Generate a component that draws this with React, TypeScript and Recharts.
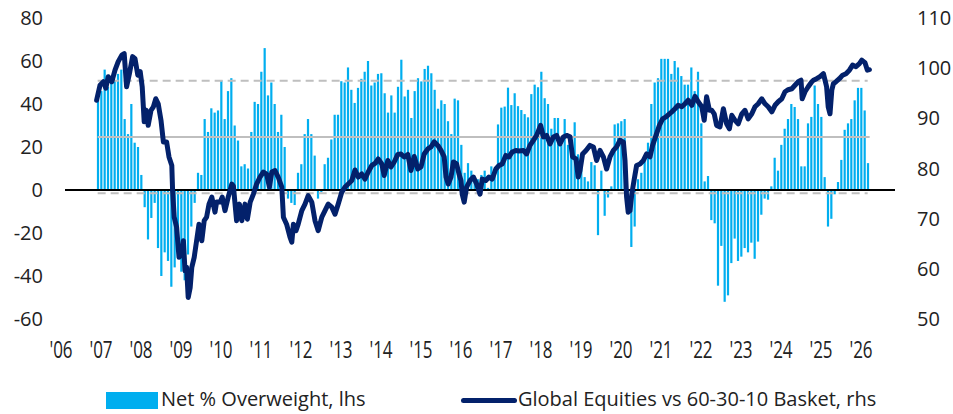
import React from 'react';
import { ComposedChart, Bar, Line, XAxis, YAxis, ReferenceLine, Legend } from 'recharts';

// Net % overweight equities (monthly, first value = Dec 2006)
const firstBarYear = 2006;
const firstBarMonth = 12;
const netOverweight = [
  42, 46, 56, 48, 53, 51, 54, 56, 33, 26, 40, 22,
  20, 7, -8, -23, -13, -6, -27, -40, -29, -33, -45, -36,
  -28, -38, -42, -30, -17, -6, 8, 7, 33, 27, 38, 36,
  37, 51, 33, 46, 52, 30, 23, 11, 12, 10, 27, 41,
  40, 55, 66, 44, 50, 40, 27, 35, 20, -4, -6, -7,
  8, 12, 26, 33, 26, 16, -4, -1, 12, 15, 23.5, 35,
  35, 50.6, 50, 57, 46.6, 40.5, 47.5, 51.7, 55, 60, 48.6, 50,
  54, 54.3, 45, 36, 44, 36, 48, 60.6, 43.5, 46.6, 33.5, 46,
  52, 50.5, 56.3, 57.8, 54.3, 46.6, 37.8, 41.7, 40, 32, 26, 42.5,
  41.7, 21, 8, 12.5, 9, 6, 5, 7, 9, 1, 11, 8,
  30.5, 38.3, 38.8, 47.6, 39.5, 45, 39, 37.2, 35.3, 33.8, 44.6, 49,
  47.8, 55, 42.7, 40, 28.5, 33.5, 33.5, 21, 33, 21, 21, 31.5,
  16.6, 11, 6, 4, 13, 11.5, -21, 9, -12, -3.5, 1.7, 30.5,
  31, 32, 33, -1, -26.5, -17, 5, 8, 14, 22, 40, 50,
  52, 61, 61, 61, 54, 60, 57, 53, 49, 49, 57, 46,
  55, 31, 4, 6.5, -14, -15.5, -44.5, -26, -52, -49, -34, -22.6,
  -33, -31, -27, -29, -24.5, -32, -24, -11.5, -4, -4.5, 1.7, 15,
  9, 21, 28.5, 33, 40, 38.6, 33, 11, 11, 31, 34, 48.6,
  40, 34, 6, -17, -13.4, -2, 3.7, 14, 28, 31, 33, 41.7,
  47.5, 47.5, 37, 12.5,
];

// Global Equities vs 60-30-10 Basket (dates as decimal years)
const lineDates = [
  2006.89, 2006.975, 2007.06, 2007.12, 2007.18, 2007.27, 2007.35, 2007.43, 2007.52, 2007.58,
  2007.64, 2007.71, 2007.79, 2007.85, 2007.92, 2007.98, 2008.03, 2008.08, 2008.13, 2008.18,
  2008.25, 2008.31, 2008.37, 2008.43, 2008.5, 2008.56, 2008.64, 2008.7, 2008.77, 2008.79,
  2008.83, 2008.89, 2008.95, 2009.02, 2009.06, 2009.1, 2009.14, 2009.18, 2009.23, 2009.27,
  2009.33, 2009.39, 2009.45, 2009.52, 2009.58, 2009.64, 2009.7, 2009.77, 2009.85, 2009.89,
  2009.98, 2010.03, 2010.1, 2010.18, 2010.27, 2010.31, 2010.39, 2010.46, 2010.52, 2010.6,
  2010.66, 2010.73, 2010.81, 2010.89, 2010.975, 2011.06, 2011.14, 2011.21, 2011.27, 2011.35,
  2011.43, 2011.52, 2011.56, 2011.64, 2011.725, 2011.77, 2011.81, 2011.875, 2011.93, 2012.02,
  2012.1, 2012.18, 2012.27, 2012.35, 2012.43, 2012.52, 2012.6, 2012.68, 2012.77, 2012.85,
  2012.93, 2013.02, 2013.1, 2013.18, 2013.27, 2013.35, 2013.43, 2013.52, 2013.6, 2013.68,
  2013.77, 2013.85, 2013.93, 2014.02, 2014.08, 2014.17, 2014.25, 2014.33, 2014.42, 2014.5,
  2014.58, 2014.67, 2014.75, 2014.83, 2014.92, 2015.0, 2015.08, 2015.17, 2015.25, 2015.33,
  2015.42, 2015.5, 2015.58, 2015.625, 2015.68, 2015.75, 2015.81, 2015.89, 2015.95, 2016.0,
  2016.03, 2016.08, 2016.14, 2016.225, 2016.31, 2016.39, 2016.475, 2016.53, 2016.62, 2016.7,
  2016.78, 2016.87, 2016.95, 2017.03, 2017.12, 2017.2, 2017.28, 2017.37, 2017.45, 2017.56,
  2017.64, 2017.725, 2017.81, 2017.89, 2017.99, 2018.06, 2018.14, 2018.225, 2018.31, 2018.39,
  2018.475, 2018.56, 2018.64, 2018.725, 2018.79, 2018.875, 2018.93, 2018.975, 2019.04, 2019.125,
  2019.225, 2019.31, 2019.39, 2019.475, 2019.56, 2019.64, 2019.725, 2019.81, 2019.89, 2019.975,
  2020.06, 2020.1, 2020.14, 2020.18, 2020.225, 2020.27, 2020.325, 2020.39, 2020.475, 2020.56,
  2020.64, 2020.725, 2020.79, 2020.875, 2020.96, 2021.04, 2021.125, 2021.21, 2021.27, 2021.35,
  2021.43, 2021.52, 2021.6, 2021.68, 2021.77, 2021.85, 2021.93, 2022.02, 2022.08, 2022.14,
  2022.21, 2022.27, 2022.33, 2022.39, 2022.475, 2022.56, 2022.64, 2022.71, 2022.77, 2022.85,
  2022.93, 2023.02, 2023.1, 2023.18, 2023.27, 2023.35, 2023.43, 2023.52, 2023.6, 2023.68,
  2023.77, 2023.85, 2023.93, 2024.02, 2024.1, 2024.18, 2024.27, 2024.35, 2024.43, 2024.5,
  2024.53, 2024.6, 2024.68, 2024.77, 2024.81, 2024.89, 2024.975, 2025.06, 2025.1, 2025.14,
  2025.18, 2025.225, 2025.27, 2025.31, 2025.375, 2025.46, 2025.54, 2025.625, 2025.71, 2025.79,
  2025.875, 2025.96, 2026.02, 2026.1, 2026.16, 2026.21,
];
const lineValues = [
  93.6, 96.6, 97.3, 96.0, 98.3, 97.3, 99.6, 101.3, 102.6, 102.9,
  96.3, 98.9, 102.3, 101.9, 98.6, 99.3, 96.3, 89.3, 91.6, 88.6,
  91.6, 92.3, 93.9, 92.9, 89.6, 85.3, 85.3, 82.3, 80.6, 75.6,
  70.3, 68.3, 62.3, 62.9, 65.6, 59.6, 60.3, 54.3, 56.3, 60.3,
  62.3, 65.6, 68.9, 65.6, 69.6, 70.3, 72.9, 74.3, 71.3, 73.3,
  73.3, 74.3, 71.6, 74.3, 76.9, 76.5, 69.6, 72.9, 69.6, 72.9,
  69.9, 73.3, 74.9, 76.9, 78.3, 79.3, 78.9, 76.3, 79.3, 79.6,
  78.3, 76.3, 70.3, 68.9, 66.3, 65.3, 68.9, 67.6, 68.9, 71.6,
  72.9, 74.6, 73.3, 69.6, 67.6, 70.3, 71.6, 72.9, 72.3, 70.9,
  72.9, 75.3, 76.3, 76.9, 77.6, 79.7, 78.3, 78.9, 77.9, 79.3,
  80.6, 81.0, 81.9, 80.9, 78.6, 81.6, 80.3, 81.3, 82.8, 82.9,
  82.3, 82.8, 79.6, 82.4, 79.9, 80.3, 82.9, 83.9, 84.3, 85.3,
  84.6, 83.6, 82.3, 78.3, 76.9, 78.3, 81.3, 80.9, 78.9, 77.6,
  74.9, 73.3, 76.3, 77.6, 78.3, 76.9, 74.9, 77.9, 77.6, 78.3,
  77.9, 79.9, 80.6, 80.9, 82.6, 82.3, 83.3, 83.6, 83.5, 83.6,
  82.9, 84.6, 85.6, 86.6, 88.6, 86.3, 86.6, 84.9, 86.3, 86.6,
  84.9, 86.3, 86.6, 86.3, 82.3, 81.9, 78.3, 79.6, 82.9, 83.6,
  84.6, 84.3, 81.6, 83.6, 82.3, 79.9, 82.3, 83.6, 84.3, 85.6,
  85.3, 81.6, 74.3, 71.3, 71.6, 74.9, 77.6, 80.6, 80.9, 81.6,
  82.9, 82.3, 84.6, 86.6, 88.6, 89.9, 90.3, 90.9, 91.3, 91.9,
  92.6, 92.3, 92.9, 93.6, 92.6, 94.4, 93.3, 92.3, 89.6, 94.3,
  91.6, 91.6, 90.9, 88.6, 88.3, 91.9, 88.9, 87.9, 90.6, 89.6,
  88.9, 90.9, 91.6, 89.9, 90.9, 92.3, 92.9, 93.9, 92.9, 92.3,
  91.3, 92.6, 93.3, 93.9, 95.3, 95.7, 95.9, 96.6, 97.3, 97.6,
  93.9, 95.3, 96.3, 97.3, 97.6, 97.9, 98.3, 98.9, 97.6, 96.3,
  92.3, 90.9, 95.6, 96.9, 97.3, 97.9, 98.6, 98.9, 99.6, 100.6,
  100.3, 100.9, 101.6, 101.1, 99.6, 99.7,
];

const yearTicks = [2006, 2007, 2008, 2009, 2010, 2011, 2012, 2013, 2014, 2015, 2016, 2017, 2018, 2019, 2020, 2021, 2022, 2023, 2024, 2025, 2026];
const leftTicks = [-60, -40, -20, 0, 20, 40, 60, 80];
const rightTicks = [50, 60, 70, 80, 90, 100, 110];

const averageLevel = 24.6;
const upperBand = 50.8;
const lowerBand = -1.5;

const barLabel = 'Net % Overweight, lhs';
const lineLabel = 'Global Equities vs 60-30-10 Basket, rhs';

const BAR_COLOR = '#00aeef';
const LINE_COLOR = '#03216b';
const GRID_GREY = '#bfbfbf';
const TEXT_COLOR = '#222222';
const FONT = "'Open Sans', 'DejaVu Sans', sans-serif";
const BAR_WIDTH = 2.2;

const barData = netOverweight.map((v, i) => ({ t: firstBarYear + (firstBarMonth - 1 + i) / 12, v }));
const lineData = lineDates.map((t, i) => ({ t, r: lineValues[i] }));
const firstT = barData[0].t;
const lastT = barData[barData.length - 1].t;

const XTick = (props: any) => {
  const { x, y, payload } = props;
  const label = "'" + String(payload.value).slice(2);
  return (
    <g transform={`translate(${x},${y})`}>
      <text x={0} y={0} dy={39} textAnchor="middle" transform="scale(0.74,1)" fill={TEXT_COLOR} fontFamily={FONT} fontSize={23}>
        {label}
      </text>
    </g>
  );
};

const BarShape = (props: any) => {
  const { x, y, width, height, fill } = props;
  if (x == null || y == null || !isFinite(height)) return null;
  const cx = x + width / 2;
  const top = Math.min(y, y + height);
  const h = Math.abs(height);
  return <rect x={cx - BAR_WIDTH / 2} y={top} width={BAR_WIDTH} height={h} fill={fill} />;
};

const LegendContent = () => (
  <div style={{ position: 'relative', width: 953, height: 30, fontFamily: FONT, fontSize: 20, color: TEXT_COLOR }}>
    <div style={{ position: 'absolute', left: 106, top: 8, width: 52, height: 17, background: BAR_COLOR }} />
    <span style={{ position: 'absolute', left: 161, top: 0, lineHeight: '30px', whiteSpace: 'nowrap' }}>{barLabel}</span>
    <div style={{ position: 'absolute', left: 461, top: 14, width: 56, height: 5, borderRadius: 3, background: LINE_COLOR }} />
    <span style={{ position: 'absolute', left: 518, top: 0, lineHeight: '30px', whiteSpace: 'nowrap' }}>{lineLabel}</span>
  </div>
);

export default function App() {
  return (
    <div style={{ position: 'absolute', left: 0, top: 0, width: 953, height: 414, background: '#fff' }}>
      <ComposedChart width={953} height={414} data={barData} margin={{ top: 18, right: 0, bottom: 0, left: 0 }}>
        <XAxis
          xAxisId={0}
          dataKey="t"
          type="number"
          domain={[2006, 2026.85]}
          allowDataOverflow
          ticks={yearTicks}
          interval={0}
          axisLine={false}
          tickLine={false}
          tickSize={0}
          tickMargin={0}
          height={65}
          tick={<XTick />}
        />
        <XAxis xAxisId="line" dataKey="t" type="number" domain={[2006, 2026.85]} allowDataOverflow hide />
        <YAxis
          yAxisId="left"
          orientation="left"
          domain={[-60, 80]}
          ticks={leftTicks}
          interval={0}
          axisLine={false}
          tickLine={false}
          tickSize={0}
          tickMargin={18}
          width={61}
          tick={{ fontSize: 20, fontFamily: FONT, fill: TEXT_COLOR }}
        />
        <YAxis
          yAxisId="right"
          orientation="right"
          domain={[50, 110]}
          ticks={rightTicks}
          interval={0}
          axisLine={false}
          tickLine={false}
          tickSize={0}
          tickMargin={22}
          width={58}
          tick={{ fontSize: 20, fontFamily: FONT, fill: TEXT_COLOR, textAnchor: 'start' }}
        />
        <Legend verticalAlign="bottom" align="left" content={LegendContent} wrapperStyle={{ left: 0, width: 953, height: 30 }} />
        <Bar xAxisId={0} yAxisId="left" dataKey="v" fill={BAR_COLOR} barSize={2} shape={<BarShape />} isAnimationActive={false} />
        <ReferenceLine xAxisId={0} yAxisId="left" segment={[{ x: firstT, y: upperBand }, { x: lastT, y: upperBand }]} stroke={GRID_GREY} strokeWidth={2} strokeDasharray="8 5" />
        <ReferenceLine xAxisId={0} yAxisId="left" segment={[{ x: firstT, y: averageLevel }, { x: lastT + 0.05, y: averageLevel }]} stroke={GRID_GREY} strokeWidth={2} />
        <ReferenceLine xAxisId={0} yAxisId="left" segment={[{ x: firstT, y: lowerBand }, { x: lastT, y: lowerBand }]} stroke={GRID_GREY} strokeWidth={2} strokeDasharray="8 5" />
        <ReferenceLine xAxisId={0} yAxisId="left" segment={[{ x: 2006.1, y: 0 }, { x: 2026.85, y: 0 }]} stroke="#000" strokeWidth={2} />
        <Line
          xAxisId="line"
          yAxisId="right"
          data={lineData}
          dataKey="r"
          type="linear"
          stroke={LINE_COLOR}
          strokeWidth={5}
          strokeLinejoin="round"
          strokeLinecap="round"
          dot={false}
          activeDot={false}
          legendType="none"
          isAnimationActive={false}
        />
      </ComposedChart>
    </div>
  );
}
